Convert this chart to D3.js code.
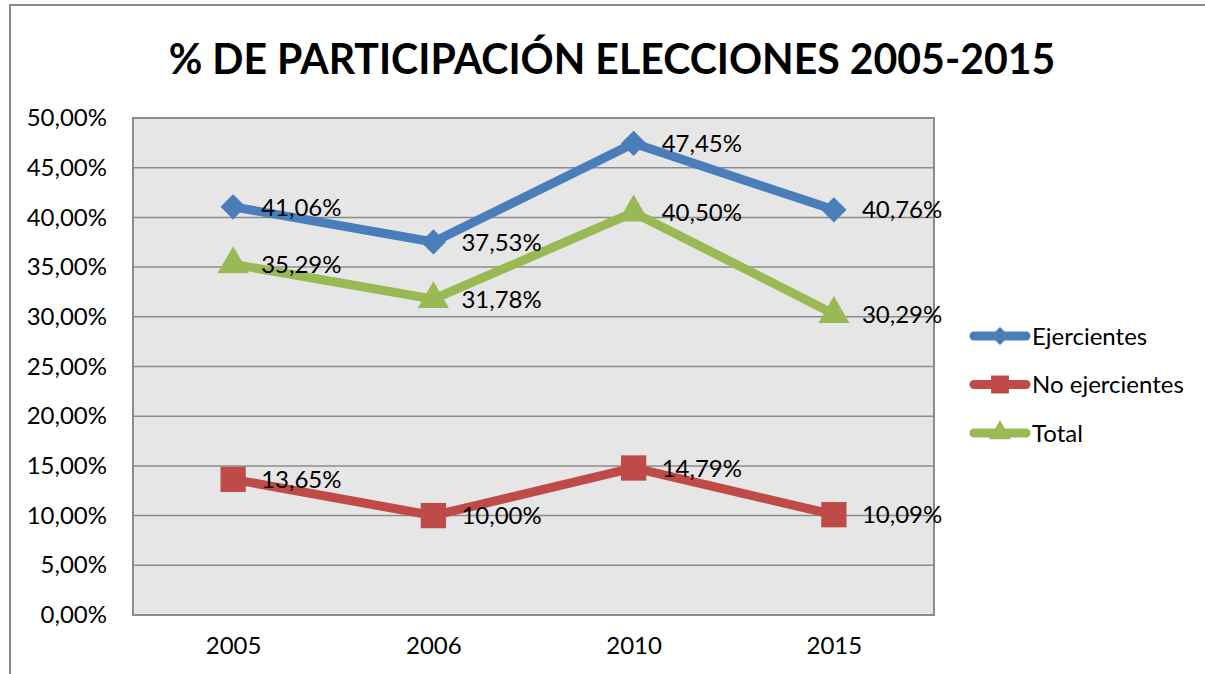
<!DOCTYPE html>
<html>
<head>
<meta charset="utf-8">
<script src="https://cdn.jsdelivr.net/npm/d3@7"></script>
<style>
  body { margin: 0; background: #fff; }
  text { font-family: Lato, "Open Sans", sans-serif; fill: #000; }
</style>
</head>
<body>
<svg id="linechart" width="1205" height="674"></svg>
<script>
// data
var years = ["2005", "2006", "2010", "2015"];
var ejercientes = [41.06, 37.53, 47.45, 40.76];
var noEjercientes = [13.65, 10.00, 14.79, 10.09];
var total = [35.29, 31.78, 40.50, 30.29];
var seriesNames = ["Ejercientes", "No ejercientes", "Total"];
var yTicks = [0, 5, 10, 15, 20, 25, 30, 35, 40, 45, 50];

var colors = ["#4a7ebb", "#be4b48", "#98b954"];
// the diamond is a square turned 45 degrees
var shapes = [d3.symbolSquare, d3.symbolSquare, d3.symbolTriangle];
var rotations = [45, 0, 0];
var symSizes = [320, 640, 420];

var svg = d3.select("#linechart");
var margin = {top: 118, left: 133},
    width = 934 - 133,
    height = 615 - 118;

var fmt = function(v) { return v.toFixed(2).replace(".", ",") + "%"; };

// outer chart frame (only top and left edges are visible)
svg.append("path")
    .attr("d", "M10,674 L10,5 L1205,5")
    .attr("fill", "none")
    .attr("stroke", "#8a8a8a")
    .attr("stroke-width", 2);

// title, sized to fit the width it takes in the picture
var title = svg.append("text")
    .attr("x", 612)
    .attr("y", 74)
    .attr("text-anchor", "middle")
    .style("font-weight", "bold")
    .style("font-size", "44px")
    .text("% DE PARTICIPACIÓN ELECCIONES 2005-2015");
var tw = title.node().getComputedTextLength();
title.style("font-size", (44 * 887 / tw) + "px");

var g = svg.append("g")
    .attr("transform", "translate(" + margin.left + "," + margin.top + ")");

var x = d3.scalePoint().domain(years).range([0, width]).padding(0.5);
var y = d3.scaleLinear().domain([0, 50]).range([height, 0]);

// plot background
g.append("rect")
    .attr("width", width)
    .attr("height", height)
    .attr("fill", "#e6e6e6");

// gridlines
g.append("g")
    .selectAll("line")
    .data(yTicks)
    .join("line")
    .attr("x1", 0)
    .attr("x2", width)
    .attr("y1", function(d) { return y(d); })
    .attr("y2", function(d) { return y(d); })
    .attr("stroke", "#8c8c8c")
    .attr("stroke-width", 1.5);

g.append("rect")
    .attr("width", width)
    .attr("height", height)
    .attr("fill", "none")
    .attr("stroke", "#8c8c8c")
    .attr("stroke-width", 2);

// y axis labels
var yAxis = g.append("g")
    .call(d3.axisLeft(y).tickValues(yTicks).tickSize(0).tickPadding(26)
        .tickFormat(function(d) { return d.toFixed(2).replace(".", ",") + "%"; }));
yAxis.select(".domain").remove();
yAxis.selectAll("text")
    .style("font-size", "24px")
    .attr("fill", "#000");

// x axis labels
var xAxis = g.append("g")
    .attr("transform", "translate(0," + height + ")")
    .call(d3.axisBottom(x).tickSize(0).tickPadding(22));
xAxis.select(".domain").remove();
xAxis.selectAll("text")
    .style("font-size", "24px")
    .attr("fill", "#000");

var allSeries = [ejercientes, noEjercientes, total];

var line = d3.line()
    .x(function(d, i) { return x(years[i]); })
    .y(function(d) { return y(d); });

allSeries.forEach(function(vals, s) {
  g.append("path")
      .datum(vals)
      .attr("fill", "none")
      .attr("stroke", colors[s])
      .attr("stroke-width", 9)
      .attr("stroke-linejoin", "round")
      .attr("stroke-linecap", "round")
      .attr("d", line);

  g.append("g")
      .selectAll("path")
      .data(vals)
      .join("path")
      .attr("transform", function(d, i) {
        return "translate(" + x(years[i]) + "," + y(d) + ") rotate(" + rotations[s] + ")";
      })
      .attr("d", d3.symbol().type(shapes[s]).size(symSizes[s]))
      .attr("fill", colors[s]);
});

// data labels
allSeries.forEach(function(vals, s) {
  g.append("g")
      .selectAll("text")
      .data(vals)
      .join("text")
      .attr("x", function(d, i) { return x(years[i]) + 28; })
      .attr("y", function(d) { return y(d); })
      .attr("dy", "0.36em")
      .style("font-size", "24px")
      .text(fmt);
});

// legend
var legend = svg.append("g").attr("transform", "translate(970,336)");
seriesNames.forEach(function(name, s) {
  var row = legend.append("g").attr("transform", "translate(0," + (s * 48.5) + ")");
  row.append("line")
      .attr("x1", 4).attr("x2", 56)
      .attr("stroke", colors[s])
      .attr("stroke-width", 9)
      .attr("stroke-linecap", "round");
  row.append("path")
      .attr("transform", "translate(30,0) rotate(" + rotations[s] + ")")
      .attr("d", d3.symbol().type(shapes[s]).size(symSizes[s] * 0.5))
      .attr("fill", colors[s]);
  row.append("text")
      .attr("x", 62)
      .attr("dy", "0.36em")
      .style("font-size", "24px")
      .text(name);
});
</script>
</body>
</html>
